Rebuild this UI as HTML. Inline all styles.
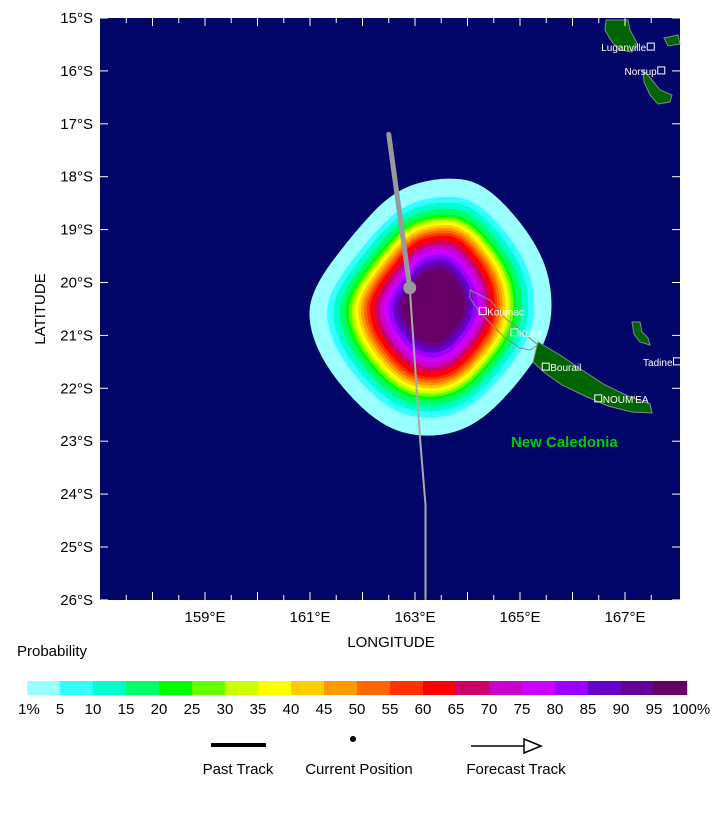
<!DOCTYPE html>
<html><head><meta charset="utf-8"><style>
body{margin:0;background:#fff;font-family:"Liberation Sans","DejaVu Sans",sans-serif}
svg text{font-family:"Liberation Sans","DejaVu Sans",sans-serif}
</style></head><body>
<svg id="chart" width="720" height="810" viewBox="0 0 720 810" xmlns="http://www.w3.org/2000/svg">
<rect x="100" y="18" width="580" height="582" fill="#020668"/>
<g id="field"></g>
<g id="land" fill="#006400" stroke="#888" stroke-width="1">
<path d="M470,290 L490,300 L505,318 L520,330 L538,345 L530,350 L520,348 L505,338 L492,325 L478,310 L470,298Z" fill="none"/>
<path d="M538,342 L560,355 L585,372 L605,385 L628,396 L650,404 L652,413 L632,412 L608,406 L585,396 L562,385 L545,373 L533,362Z"/>
<path d="M606,20 L628,20 L630,30 L638,45 L632,52 L620,50 L612,42 L605,30Z"/>
<path d="M643,70 L652,80 L660,90 L672,95 L670,102 L658,104 L650,95 L644,82Z"/>
<path d="M664,38 L678,35 L680,44 L668,46Z"/>
<path d="M632,322 L640,322 L642,332 L648,338 L650,345 L640,342 L634,334Z"/>
</g>
<g id="cities" font-size="10" fill="#fff"></g>
<text x="511" y="447" font-size="15" font-weight="bold" fill="#00cc00">New Caledonia</text>
<g id="track"></g>
<g id="axes" font-size="15" fill="#000"></g>
<text x="391" y="647" font-size="15" text-anchor="middle">LONGITUDE</text>
<text transform="translate(45,309) rotate(-90)" font-size="15" text-anchor="middle">LATITUDE</text>
<text x="17" y="656" font-size="15">Probability</text>
<g id="cbar" font-size="15"></g>
<g font-size="15">
<line x1="211" y1="745" x2="266" y2="745" stroke="#000" stroke-width="4"/>
<text x="238" y="774" text-anchor="middle">Past Track</text>
<circle cx="353" cy="739" r="3" fill="#000"/>
<text x="359" y="774" text-anchor="middle">Current Position</text>
<line x1="471" y1="746" x2="527" y2="746" stroke="#000" stroke-width="1.5"/>
<polygon points="524,739 541,746 524,753" fill="#fff" stroke="#000" stroke-width="1.5"/>
<text x="516" y="774" text-anchor="middle">Forecast Track</text>
</g>
</svg>
<script>
const levels=[1,5,10,15,20,25,30,35,40,45,50,55,60,65,70,75,80,85,90,95];
const colors=["#99ffff","#33ffff","#00ffcc","#00ff66","#00ff00","#66ff00","#ccff00","#ffff00","#ffcc00","#ff9900","#ff6600","#ff3300","#ff0000","#cc0066","#cc00cc","#cc00ff","#9900ff","#6600cc","#660099","#660066"];
const pastLon=[162.5,162.9];
const pastLat=[17.2,20.1];
const fcLon=[162.9,163.1,163.2,163.2];
const fcLat=[20.1,23.0,24.2,26.0];
const latTicks=[15,16,17,18,19,20,21,22,23,24,25,26];
const lonTicks=[159,161,163,165,167];
const cityNames=["Luganville","Norsup","Koumac","Kone","Bourail","NOUM'EA","Tadine"];
const cityLon=[167.5,167.7,164.3,164.9,165.5,166.5,168.0];
const cityLat=[15.55,16.0,20.55,20.95,21.6,22.2,21.5];
const NS="http://www.w3.org/2000/svg";
const X=lon=>100+(lon-157)*52.5, Y=lat=>18+(lat-15)*52.9;
function mk(t,a,p){const e=document.createElementNS(NS,t);for(const k in a)e.setAttribute(k,a[k]);p.appendChild(e);return e;}
const cLon=163.3,cLat=20.5;
const shape=[[0.2,-2.5],[1.0,-2.4],[1.85,-1.5],[2.3,-0.6],[2.3,0.5],[1.6,1.5],[0.8,2.25],[-0.1,2.45],[-1.0,2.2],[-1.95,1.2],[-2.35,0.3],[-2.25,-0.4],[-1.5,-1.4],[-0.7,-2.25]];
// contour scale profile (fraction of outer contour size) at a few level indices
function scaleAt(i){
  const k=[[0,1],[1,0.86],[4,0.72],[12,0.55],[19,0.29]];
  for(let j=0;j<k.length-1;j++){if(i<=k[j+1][0]){const t=(i-k[j][0])/(k[j+1][0]-k[j][0]);return k[j][1]+t*(k[j+1][1]-k[j][1]);}}
  return 0.29;
}
const field=document.getElementById('field');
levels.forEach((lv,i)=>{
  const f=i/19;
  const s=scaleAt(i);
  const dy=-0.05*f, dx=0.05*f;
  const pts=shape.map(p=>[X(cLon+dx+p[0]*s*(1-0.1*f)),Y(cLat+dy+p[1]*s)]);
  const n=pts.length;
  let d="";
  for(let k=0;k<n;k++){
    const a=pts[k],b=pts[(k+1)%n];
    const m=[(a[0]+b[0])/2,(a[1]+b[1])/2];
    if(k===0){const z=pts[n-1];d+="M"+((z[0]+a[0])/2)+","+((z[1]+a[1])/2);}
    d+=" Q"+a[0]+","+a[1]+" "+m[0]+","+m[1];
  }
  d+="Z";
  const e=mk('path',{d:d,fill:colors[i]},field);
  
  
});
const cities=document.getElementById('cities');
cityNames.forEach((n,i)=>{
  const x=X(cityLon[i]),y=Y(cityLat[i]);
  const r=mk('rect',{x:x-4,y:y-4,width:7,height:7,fill:'none',stroke:'#fff'},cities);
  
  
  const right=(i<=1||i==6);
  const t=mk('text',{x:right?x-5:x+4,y:y+4,'text-anchor':right?'end':'start'},cities);
  
  
  t.textContent=n;
});
const tr=document.getElementById('track');
const pl=mk('polyline',{points:pastLon.map((l,i)=>X(l)+","+Y(pastLat[i])).join(" "),stroke:'#999',fill:'none','stroke-width':5,'stroke-linecap':'round'},tr);


const fl=mk('polyline',{points:fcLon.map((l,i)=>X(l)+","+Y(fcLat[i])).join(" "),stroke:'#aaa',fill:'none','stroke-width':2},tr);


const cp=mk('circle',{cx:X(pastLon[1]),cy:Y(pastLat[1]),r:6.5,fill:'#999'},tr);


const ax=document.getElementById('axes');
latTicks.forEach(l=>{
  const y=Y(l);
  const t=mk('text',{x:93,y:y+5,'text-anchor':'end'},ax);
  
  
  t.textContent=l+"°S";
  mk('line',{x1:100,x2:108,y1:y,y2:y,stroke:'#fff'},ax);
  mk('line',{x1:672,x2:680,y1:y,y2:y,stroke:'#fff'},ax);
});
for(let l=157.5;l<168;l+=0.5){const x=X(l);const len=(l%1===0)?8:5;
  mk('line',{x1:x,x2:x,y1:18,y2:18+len,stroke:'#fff'},ax);mk('line',{x1:x,x2:x,y1:600,y2:600-len,stroke:'#fff'},ax);}
lonTicks.forEach(l=>{
  const t=mk('text',{x:X(l),y:622,'text-anchor':'middle'},ax);
  
  
  t.textContent=l+"°E";
});
const cb=document.getElementById('cbar');
const cbLabels=["1%","5","10","15","20","25","30","35","40","45","50","55","60","65","70","75","80","85","90","95","100%"];
colors.forEach((c,i)=>{
  const r=mk('rect',{x:27+i*33,y:681,width:33.2,height:14,fill:c},cb);
  
  
});
cbLabels.forEach((l,i)=>{
  const t=mk('text',{x:27+i*33+(i==0?2:0)+(i==20?4:0),y:714,'text-anchor':'middle'},cb);
  
  
  t.textContent=l;
});
</script>
</body></html>
